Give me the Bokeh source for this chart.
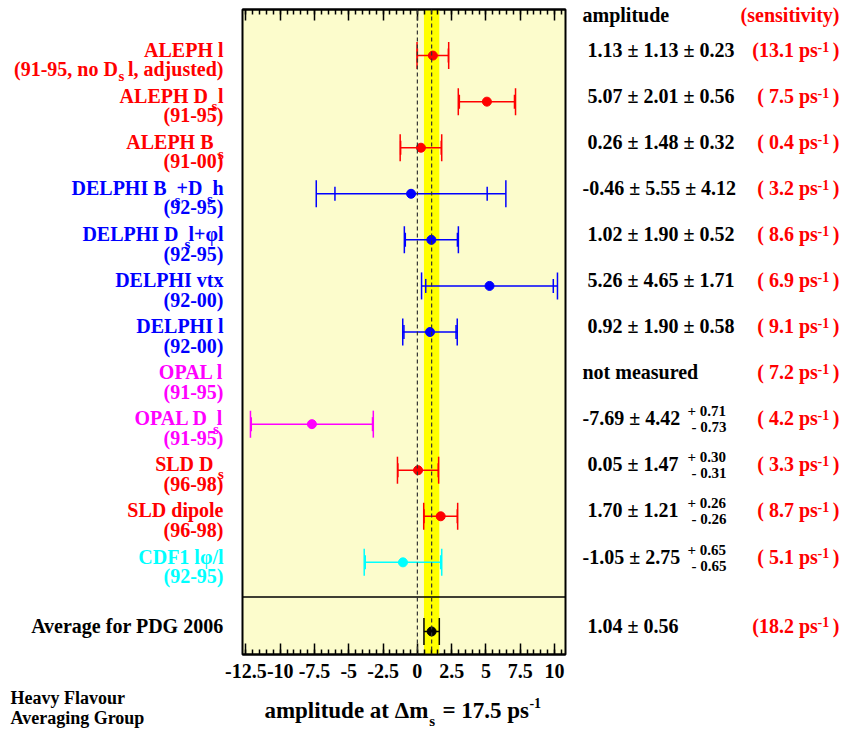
import numpy as np
from bokeh.plotting import figure
from bokeh.layouts import row as hrow, column
from bokeh.models import (ColumnDataSource, Range1d, LinearAxis, FixedTicker,
                          Span, BoxAnnotation)
from bokeh.core.properties import value, field
from bokeh.embed import file_html
from bokeh.resources import INLINE

# ---------------- data ----------------
experiments = ["ALEPH l", "ALEPH D\u2002l", "ALEPH B\u2002", "DELPHI B\u2002+D\u2002h",
               "DELPHI D\u2002l+\u03c6l", "DELPHI vtx", "DELPHI l", "OPAL l",
               "OPAL D\u2002l", "SLD D\u2002", "SLD dipole", "CDF1 l\u03c6/l"]
periods = ["(91-95, no D\u2002l, adjusted)", "(91-95)", "(91-00)", "(92-95)", "(92-95)",
           "(92-00)", "(92-00)", "(91-95)", "(91-95)", "(96-98)", "(96-98)", "(92-95)"]
colors = ["#ff0000", "#ff0000", "#ff0000", "#0000ff", "#0000ff", "#0000ff", "#0000ff",
          "#ff00ff", "#ff00ff", "#ff0000", "#ff0000", "#00ffff"]
amplitude = [1.13, 5.07, 0.26, -0.46, 1.02, 5.26, 0.92, np.nan, -7.69, 0.05, 1.70, -1.05]
stat_err = [1.13, 2.01, 1.48, 5.55, 1.90, 4.65, 1.90, np.nan, 4.42, 1.47, 1.21, 2.75]
syst_plus = [0.23, 0.56, 0.32, 4.12, 0.52, 1.71, 0.58, np.nan, 0.71, 0.30, 0.26, 0.65]
syst_minus = [0.23, 0.56, 0.32, 4.12, 0.52, 1.71, 0.58, np.nan, 0.73, 0.31, 0.26, 0.65]
asymmetric = [False, False, False, False, False, False, False, False, True, True, True, True]
sensitivity = [13.1, 7.5, 0.4, 3.2, 8.6, 6.9, 9.1, 7.2, 4.2, 3.3, 8.7, 5.1]

avg_label = "Average for PDG 2006"
avg_amp = [1.04]
avg_err = [0.56]
avg_sens = [18.2]

x_ticks = [-12.5, -10, -7.5, -5, -2.5, 0, 2.5, 5, 7.5, 10]
x_tick_labels = ["-12.5", "-10", "-7.5", "-5", "-2.5", "0", "2.5", "5", "7.5", "10"]

# subscript "s" marks in the labels: row, offset from label right edge (px), drop below row (px)
sub_rows = [0, 1, 2, 3, 3, 4, 8, 9]
sub_dx = [-102, -9, -2.5, -46, -13.5, -36, -7.5, -2.5]
sub_dy = [25, 9, 11, 11, 10, 8, 9, 8]

# ---------------- layout (page pixels) ----------------
TOTAL_W, TOTAL_H = 843, 730
LW = 224                       # left text panel width
FL, FR, FT, FB = 242, 565, 9, 654
CW = (FL - LW) + (FR - FL) + 4  # centre plot width
CH = 690                       # centre plot height (title strip below)
RW = TOTAL_W - LW - CW
X_LO, X_HI = -12.75, 10.8
Y_TOP, Y_BOT = -1.0, 13.0
PY = (Y_BOT - Y_TOP) / (FB - FT)
BASE_FIX = 0.29                # baseline correction, fraction of font size


def yd(py):
    return Y_TOP + (py - FT) * PY


FONT = value("Liberation Serif")


def txt(fig, xs, ys, texts, size, align, color="black", ppy=PY):
    shift = BASE_FIX * float(size.replace("px", "")) * ppy
    src = dict(x=list(xs), y=[y - shift for y in ys], text=list(texts))
    if isinstance(color, list):
        src["color"] = color
        col = field("color")
    else:
        col = value(color)
    fig.text(x="x", y="y", text="text", source=ColumnDataSource(src),
             text_font=FONT, text_font_style="bold", text_font_size=value(size),
             text_align=align, text_baseline="alphabetic", text_color=col)


def blank(w, h, xr, yr):
    f = figure(width=w, height=h, x_range=xr, y_range=yr, output_backend="svg",
               toolbar_location=None, x_axis_location=None, y_axis_location=None,
               min_border=0, min_border_left=0, min_border_right=0, min_border_top=0,
               min_border_bottom=0, outline_line_color=None,
               background_fill_color="white", border_fill_color="white")
    f.grid.visible = False
    return f


n = len(experiments)
rows = np.arange(n, dtype=float)
amp = np.array(amplitude, dtype=float)
st = np.array(stat_err, dtype=float)
sp = np.array(syst_plus, dtype=float)
sm = np.array(syst_minus, dtype=float)
tot_hi = amp + np.sqrt(st ** 2 + sp ** 2)
tot_lo = amp - np.sqrt(st ** 2 + sm ** 2)

meas = ColumnDataSource(dict(row=rows, amp=amp, lo=tot_lo, hi=tot_hi,
                             slo=amp - st, shi=amp + st, color=colors))
avg_row = [12.5]
avg = ColumnDataSource(dict(row=avg_row, amp=avg_amp,
                            lo=[avg_amp[0] - avg_err[0]], hi=[avg_amp[0] + avg_err[0]]))

# ---------------- centre plot ----------------
p = figure(width=CW, height=CH, x_range=Range1d(X_LO, X_HI), y_range=Range1d(Y_BOT, Y_TOP),
           output_backend="svg", toolbar_location=None, y_axis_location=None,
           min_border_left=FL - LW, min_border_right=CW - (FR - LW), min_border_top=FT,
           min_border_bottom=CH - FB,
           background_fill_color="#fcfccc", border_fill_color="white",
           outline_line_color="black", outline_line_width=2)
p.grid.visible = False

minor = list(np.arange(-12.5, 10.51, 0.5))
ax = p.xaxis[0]
ax.ticker = FixedTicker(ticks=x_ticks, minor_ticks=minor)
ax.major_label_overrides = {float(t): l for t, l in zip(x_ticks, x_tick_labels)}
ax.major_tick_in = 11
ax.major_tick_out = 0
ax.minor_tick_in = 5
ax.minor_tick_out = 0
ax.major_tick_line_width = 1.5
ax.minor_tick_line_width = 1.5
ax.axis_line_width = 2
ax.major_label_text_font = "Liberation Serif"
ax.major_label_text_font_style = "bold"
ax.major_label_text_font_size = "20px"
ax.major_label_text_color = "black"
ax.major_label_standoff = 9

top = LinearAxis(ticker=FixedTicker(ticks=x_ticks, minor_ticks=minor),
                 major_tick_in=11, major_tick_out=0, minor_tick_in=5, minor_tick_out=0,
                 major_tick_line_width=1.5, minor_tick_line_width=1.5, axis_line_width=2,
                 major_label_text_font_size="0px", major_label_text_color=None,
                 major_label_standoff=0)
p.add_layout(top, "above")

p.add_layout(BoxAnnotation(left=avg_amp[0] - avg_err[0], right=avg_amp[0] + avg_err[0],
                           fill_color="#ffff00", fill_alpha=1.0, line_alpha=0,
                           level="underlay"))

p.segment(x0="lo", y0="row", x1="hi", y1="row", source=meas,
          line_color=field("color"), line_width=1.5)
for col, sz in (("lo", 27), ("hi", 27), ("slo", 14), ("shi", 14)):
    p.scatter(x=col, y="row", source=meas, marker="dash", angle=np.pi / 2, size=sz,
              line_color=field("color"), line_width=1.5)
p.scatter(x="amp", y="row", source=meas, marker="circle", size=9,
          fill_color=field("color"), line_color=field("color"))

p.segment(x0="lo", y0="row", x1="hi", y1="row", source=avg, line_color="black", line_width=1.5)
for col in ("lo", "hi"):
    p.scatter(x=col, y="row", source=avg, marker="dash", angle=np.pi / 2, size=27,
              line_color="black", line_width=1.5)
p.scatter(x="amp", y="row", source=avg, marker="circle", size=9,
          fill_color="black", line_color="black")

p.add_layout(Span(location=11.75, dimension="width", line_color="black", line_width=1.5))
p.add_layout(Span(location=0, dimension="height", line_color="#333333",
                  line_width=1.2, line_dash="4 3"))
p.add_layout(Span(location=avg_amp[0], dimension="height", line_color="#333333",
                  line_width=1.2, line_dash="4 3"))

# ---------------- left labels ----------------
yr_side = Range1d(yd(TOTAL_H), yd(0))
left = blank(LW, TOTAL_H, Range1d(0, LW), yr_side)
LR = LW - 1
txt(left, [LR] * (2 * n + 1),
    list(rows) + list(rows + 19.5 * PY) + avg_row,
    experiments + periods + [avg_label], "20px", "right",
    colors + colors + ["black"])
txt(left, [LR + dx for dx in sub_dx],
    [r + dy * PY for r, dy in zip(sub_rows, sub_dy)],
    ["s"] * len(sub_rows), "15px", "center", [colors[r] for r in sub_rows])
txt(left, [10, 10], [yd(702.5), yd(723)], ["Heavy Flavour", "Averaging Group"],
    "18px", "left")

# ---------------- right columns ----------------
RX0 = LW + CW
right = blank(RW, TOTAL_H, Range1d(RX0, TOTAL_W), yr_side)
VL = 582
val_text, sup_text, sub_text, sup_y, sub_y = [], [], [], [], []
for i in range(n):
    if np.isnan(amp[i]):
        val_text.append("not measured")
        continue
    pre = "" if amp[i] < 0 else "\u00a0"
    if asymmetric[i]:
        val_text.append(f"{pre}{amp[i]:.2f} \u00b1 {st[i]:.2f}")
        sup_text.append(f"+ {sp[i]:.2f}")
        sub_text.append(f"- {sm[i]:.2f}")
        sup_y.append(rows[i] - 8.5 * PY)
        sub_y.append(rows[i] + 7.5 * PY)
    else:
        val_text.append(f"{pre}{amp[i]:.2f} \u00b1 {st[i]:.2f} \u00b1 {sp[i]:.2f}")
val_text.append(f"\u00a0{avg_amp[0]:.2f} \u00b1 {avg_err[0]:.2f}")
txt(right, [VL] * (n + 2), list(rows) + avg_row + [yd(20.7)],
    val_text + ["amplitude"], "20px", "left")
txt(right, [687] * len(sup_text), sup_y, sup_text, "15px", "left")
txt(right, [691] * len(sub_text), sub_y, sub_text, "15px", "left")

SR = 839
sens_all = sensitivity + avg_sens
ys = list(rows) + avg_row
txt(right, [SR - 21.6] * (n + 1), ys, [f"({s:4.1f} ps" for s in sens_all],
    "20px", "right", "#ff0000")
txt(right, [SR - 10.3] * (n + 1), [y - 5 * PY for y in ys], ["-1"] * (n + 1),
    "14px", "right", "#ff0000")
txt(right, [SR] * (n + 2), ys + [yd(20.7)], [")"] * (n + 1) + ["(sensitivity)"],
    "20px", "right", "#ff0000")

# ---------------- axis title strip ----------------
TH = TOTAL_H - CH
title = blank(CW, TH, Range1d(LW, LW + CW), Range1d(TOTAL_H, CH))
txt(title, [422.5], [717], ["amplitude at \u0394m"], "23px", "right", ppy=1.0)
txt(title, [423.5], [724.5], ["s"], "15px", "left", ppy=1.0)
txt(title, [530], [717], ["= 17.5 ps"], "23px", "right", ppy=1.0)
txt(title, [530.5], [707], ["-1"], "14px", "left", ppy=1.0)

layout = hrow(left, column(p, title, spacing=0), right, spacing=0)
open("out.html", "w").write(file_html(layout, INLINE))
